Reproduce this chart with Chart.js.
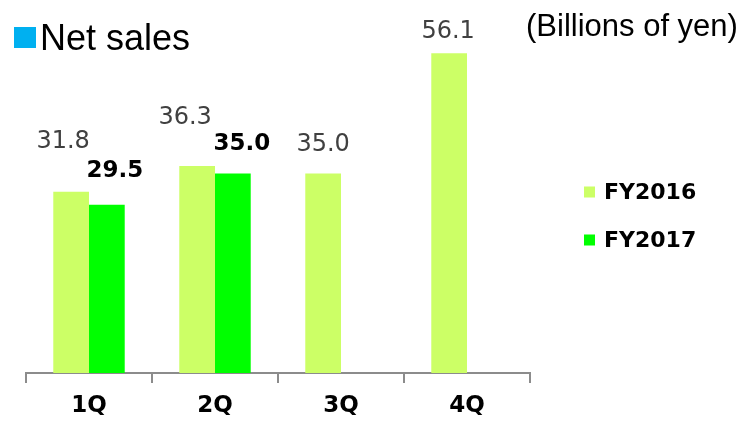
<!DOCTYPE html>
<html>
<head>
<meta charset="utf-8">
<title>Net sales</title>
<script src="https://cdn.jsdelivr.net/npm/chart.js@4.4.1/dist/chart.umd.min.js"></script>
<style>
  html, body { margin: 0; padding: 0; background: #fff; }
  #wrap { position: relative; width: 746px; height: 421px; overflow: hidden; }
  #salesChart { position: absolute; left: 0; top: 0; }
  .sq { position: absolute; left: 14px; top: 27px; width: 22px; height: 21px; background: #00b0f0; }
  #title { position: absolute; left: 40px; top: 20px; font: 36px "Liberation Sans", Arial, sans-serif; line-height: 1; color: #000; white-space: nowrap; }
  #unit { position: absolute; left: 526px; top: 10px; font: 31px "Liberation Sans", Arial, sans-serif; line-height: 1; color: #000; white-space: nowrap; }
</style>
</head>
<body>
<div id="wrap">
  <canvas id="salesChart" width="746" height="421"></canvas>
  <div class="sq"></div>
  <div id="title">Net sales</div>
  <div id="unit">(Billions of yen)</div>
</div>
<script>
// data
var categories = ['1Q', '2Q', '3Q', '4Q'];
var fy2016 = [31.8, 36.3, 35.0, 56.1];
var fy2017 = [29.5, 35.0, null, null];
var seriesNames = ['FY2016', 'FY2017'];
var yMax = 60;

// value labels were placed by hand on the slide, so nudge each one (dx, dy from bar top)
var labelNudge = [
  [[-8, -50], [-12, -48], [0, -29], [-1, -21]],
  [[8, -34], [9, -29]]
];

var labelFont = '"DejaVu Sans", Verdana, sans-serif';

// value labels above the bars
var valueLabels = {
  id: 'valueLabels',
  afterDatasetsDraw: function(chart) {
    var ctx = chart.ctx;
    ctx.save();
    ctx.textAlign = 'center';
    ctx.textBaseline = 'middle';
    chart.data.datasets.forEach(function(ds, di) {
      var meta = chart.getDatasetMeta(di);
      ctx.font = (di === 1 ? 'bold 23px ' : '24px ') + labelFont;
      ctx.fillStyle = di === 1 ? '#000' : '#404040';
      meta.data.forEach(function(bar, i) {
        var v = ds.data[i];
        if (v === null || v === undefined) return;
        var n = labelNudge[di][i] || [0, -30];
        ctx.fillText(v.toFixed(1), bar.x + n[0], bar.y + n[1]);
      });
    });
    ctx.restore();
  }
};

// legend on the right, drawn by hand
var sideLegend = {
  id: 'sideLegend',
  afterDraw: function(chart) {
    var ctx = chart.ctx;
    ctx.save();
    ctx.font = 'bold 22px ' + labelFont;
    ctx.textBaseline = 'middle';
    chart.data.datasets.forEach(function(ds, i) {
      var y = 192 + i * 48;
      ctx.fillStyle = ds.backgroundColor;
      ctx.fillRect(584, y - 5.5, 11, 11);
      ctx.fillStyle = '#000';
      ctx.fillText(ds.label, 604, y + 1);
    });
    ctx.restore();
  }
};

var ctx = document.getElementById('salesChart').getContext('2d');
var chart = new Chart(ctx, {
  type: 'bar',
  data: {
    labels: categories,
    datasets: [
      { label: seriesNames[0], data: fy2016, backgroundColor: '#ccff66' },
      { label: seriesNames[1], data: fy2017, backgroundColor: '#00ff00' }
    ]
  },
  options: {
    responsive: false,
    animation: false,
    layout: { padding: { left: 26, right: 216, top: 31, bottom: 0 } },
    datasets: { bar: { categoryPercentage: 0.567, barPercentage: 1 } },
    plugins: {
      legend: { display: false },
      tooltip: { enabled: false }
    },
    scales: {
      x: {
        afterFit: function(scale) { scale.height = 48; },
        grid: { offset: true, drawOnChartArea: false, drawTicks: true, tickLength: 10, color: '#8c8c8c', lineWidth: 2 },
        border: { display: true, color: '#8c8c8c', width: 2 },
        ticks: { color: '#000', padding: 9, font: { family: labelFont, size: 23, weight: 'bold' } }
      },
      y: { display: false, min: 0, max: yMax }
    }
  },
  plugins: [valueLabels, sideLegend]
});
</script>
</body>
</html>
